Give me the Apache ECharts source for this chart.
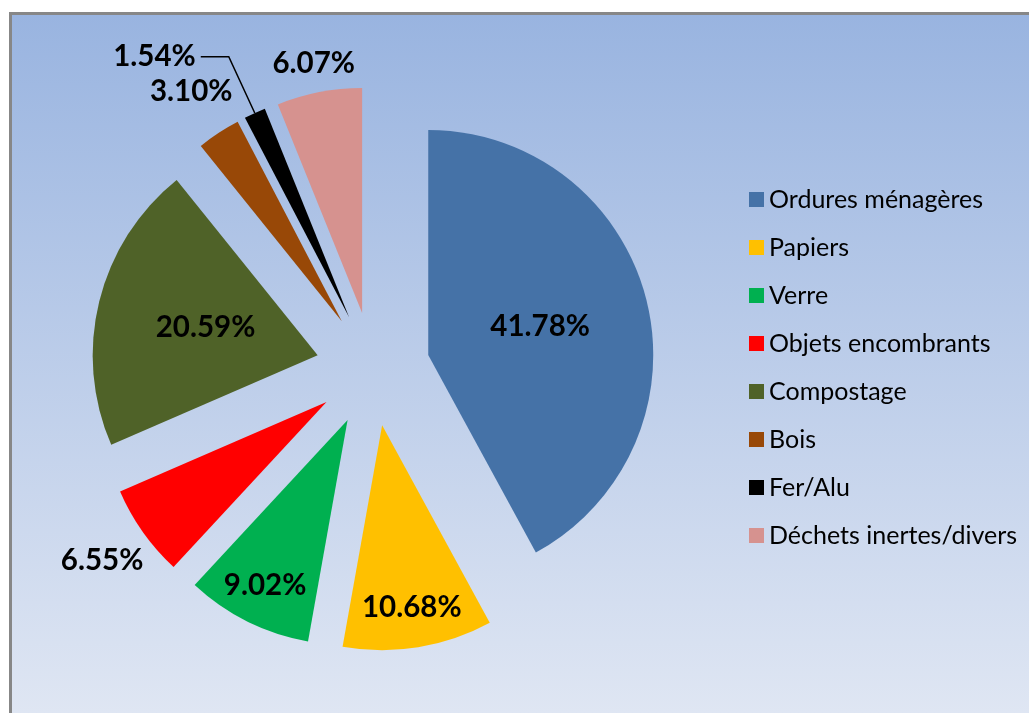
<!DOCTYPE html>
<html><head><meta charset="utf-8">
<script src="https://cdn.jsdelivr.net/npm/echarts@6/dist/echarts.min.js"></script>
<style>
html,body{margin:0;padding:0;background:#fff;width:1029px;height:713px;overflow:hidden}
#frame{position:absolute;left:9px;top:12px;width:1020px;height:701px;box-sizing:border-box;border-left:3px solid #878787;border-top:3px solid #878787;background:linear-gradient(to bottom,#99b4e0,#dfe6f3)}
#chart{position:absolute;left:0;top:0;width:1029px;height:713px}
</style></head><body>
<div id="frame"></div><div id="chart"></div>
<script>
const categories = ['Ordures ménagères','Papiers','Verre','Objets encombrants','Compostage','Bois','Fer/Alu','Déchets inertes/divers'];
const values = [41.78, 10.68, 9.02, 6.55, 20.59, 3.10, 1.54, 6.07];
const colors = ['#4572a7','#ffc000','#00b050','#ff0000','#4f6228','#984807','#000000','#d6928f'];
// which label ring each slice's label is drawn on
const labelGroup = ['inner','mid','mid','far','inner','far','line','near'];

const CENTER = [373, 369];
const R = 225;
const OFFSET = 57;
const labelFont = {fontFamily: 'Lato', fontSize: 29.5, fontWeight: 'bold', color: '#000'};
const fmt = p => p.value.toFixed(2) + '%';

const mainData = categories.map((name, i) => {
  const g = labelGroup[i];
  const item = {name, value: values[i], selected: true, itemStyle: {color: colors[i]}};
  if (g === 'inner') {
    item.label = {show: true, position: 'inside'};
  } else if (g === 'line') {
    item.label = {show: true, position: 'outside', padding: [0, 0, 22, 0]};
    item.labelLine = {show: true, length: 62, length2: 28, smooth: false,
      lineStyle: {color: '#000', width: 1.5}};
  } else {
    item.label = {show: false};
    item.labelLine = {show: false};
  }
  return item;
});

function ringSeries(group, dist) {
  return {
    type: 'pie', center: CENTER, radius: [0, dist * 2], startAngle: 90, clockwise: true,
    selectedMode: 'multiple', selectedOffset: OFFSET, avoidLabelOverlap: false,
    silent: true, z: 5, animation: false, tooltip: {show: false},
    emphasis: {disabled: true},
    label: Object.assign({position: 'inside', formatter: fmt}, labelFont),
    labelLine: {show: false},
    data: categories.map((name, i) => ({
      name, value: values[i], selected: true,
      itemStyle: {color: 'rgba(0,0,0,0)'},
      label: {show: labelGroup[i] === group}
    }))
  };
}

const chart = echarts.init(document.getElementById('chart'), null, {renderer: 'canvas'});
chart.setOption({
  backgroundColor: 'transparent',
  animation: false,
  legend: {
    orient: 'vertical', left: 744, top: 182,
    itemWidth: 15, itemHeight: 15, itemGap: 23, icon: 'rect',
    selectedMode: false,
    data: categories,
    textStyle: {fontFamily: 'Lato', fontSize: 25, color: '#000'}
  },
  series: [
    {
      type: 'pie', name: 'main', center: CENTER, radius: [0, R], startAngle: 90, clockwise: true,
      selectedMode: 'multiple', selectedOffset: OFFSET, avoidLabelOverlap: false,
      emphasis: {disabled: true}, z: 2,
      label: Object.assign({formatter: fmt, distanceToLabelLine: 5, alignTo: 'none'}, labelFont),
      data: mainData
    },
    ringSeries('mid', 182),
    ringSeries('far', 272),
    ringSeries('near', 251)
  ]
});
</script>
</body></html>
